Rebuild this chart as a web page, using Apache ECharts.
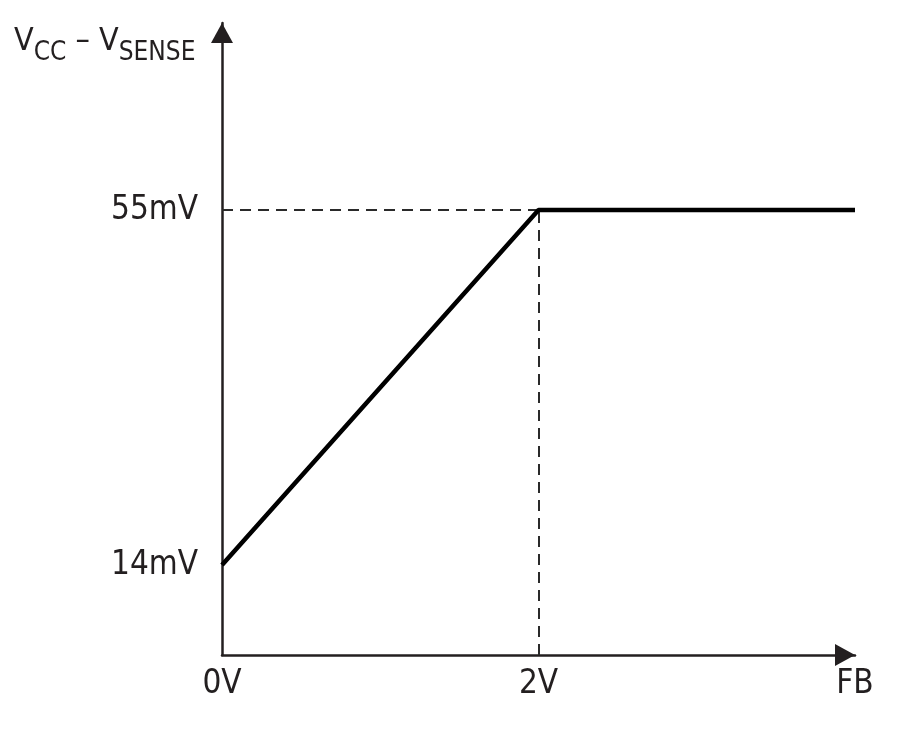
<!DOCTYPE html>
<html>
<head>
<meta charset="utf-8">
<script src="https://cdn.jsdelivr.net/npm/echarts@6/dist/echarts.min.js"></script>
<style>
  html, body { margin: 0; padding: 0; background: #fff; }
  #main { width: 900px; height: 746px; }
</style>
</head>
<body>
<div id="main"></div>
<script>
// FB voltage (V) vs current sense threshold (mV)
const fbVolts = [0, 2, 4]
const senseMv = [14, 55, 55]
const yTicks = [14, 55]
const xTicks = [0, 2, 4]
const xTickNames = ['0V', '2V', 'FB']

const yMin = 3.6
const yMax = 76.6
const ink = '#231f20'
const font = '"DejaVu Sans Condensed", "Liberation Sans Narrow", sans-serif'

const knee = 1
const myChart = echarts.init(document.getElementById('main'))
const option = {
  animation: false,
  grid: { left: 222, right: 45, top: 23, bottom: 91 },
  xAxis: {
    type: 'value',
    min: 0,
    max: 4,
    splitLine: { show: false },
    axisTick: { show: false },
    axisLine: {
      lineStyle: { color: ink, width: 2.5 },
      symbol: ['none', 'triangle'],
      symbolSize: [22, 20],
      symbolOffset: [0, -10]
    },
    axisLabel: {
      customValues: xTicks,
      formatter: v => xTickNames[xTicks.indexOf(v)],
      color: ink,
      fontFamily: font,
      fontSize: 33,
      margin: 13
    }
  },
  yAxis: {
    type: 'value',
    min: yMin,
    max: yMax,
    splitLine: { show: false },
    axisTick: { show: false },
    axisLine: {
      lineStyle: { color: ink, width: 2.5 },
      symbol: ['none', 'triangle'],
      symbolSize: [22, 20],
      symbolOffset: [0, -10]
    },
    axisLabel: {
      customValues: yTicks,
      formatter: v => v + 'mV',
      color: ink,
      fontFamily: font,
      fontSize: 33,
      margin: 24
    }
  },
  graphic: [{
    type: 'text',
    left: 14,
    top: 26,
    style: {
      text: '{v|V}{s|CC}{v| – V}{s|SENSE}',
      fill: ink,
      rich: {
        v: { fontFamily: font, fontSize: 32, fill: ink, verticalAlign: 'bottom', padding: [0, 0, 8, 0] },
        s: { fontFamily: font, fontSize: 26, fill: ink, verticalAlign: 'bottom' }
      }
    }
  }],
  series: [{
    type: 'line',
    data: fbVolts.map((x, i) => [x, senseMv[i]]),
    symbol: 'none',
    lineStyle: { color: '#000', width: 4.5 },
    z: 5,
    markLine: {
      silent: true,
      symbol: ['none', 'none'],
      label: { show: false },
      lineStyle: { color: '#2a2a2a', width: 2, type: [11, 7] },
      data: [
        [{ coord: [fbVolts[0], senseMv[knee]] }, { coord: [fbVolts[knee], senseMv[knee]] }],
        [{ coord: [fbVolts[knee], yMin] }, { coord: [fbVolts[knee], senseMv[knee]] }]
      ]
    }
  }]
}
myChart.setOption(option)
</script>
</body>
</html>
